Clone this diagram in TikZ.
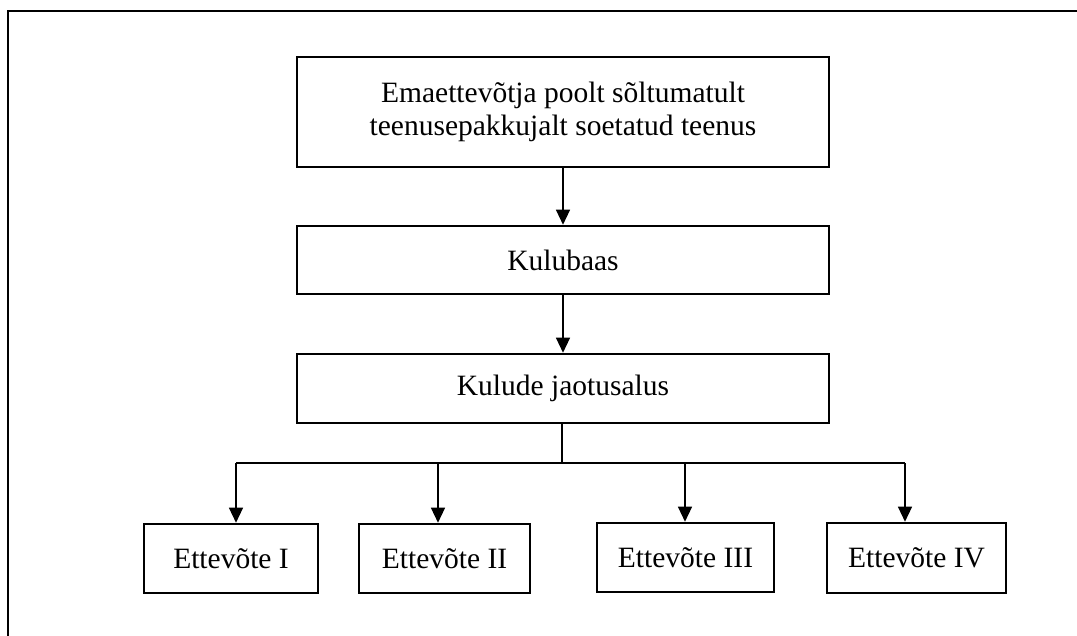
\documentclass[tikz,border=0pt]{standalone}
\usepackage{fontspec}
\setmainfont{Liberation Serif}
\usetikzlibrary{arrows.meta}
\begin{document}
\begin{tikzpicture}[x=1pt,y=-1pt,
  box/.style={draw=black,line width=2.6pt,inner sep=0pt,anchor=center,
    font=\fontsize{29.5}{33}\selectfont,align=center},
  conn/.style={line width=1.3pt},
  arr/.style={conn,-{Triangle[length=15pt,width=14pt]}}]
\useasboundingbox (0,0) rectangle (1077,635);
% frame
\coordinate (f1) at (8,640);
\coordinate (f2) at (8,11);
\coordinate (f3) at (1080,11);
\draw[line width=2.8pt] (f1) -- (f2) -- (f3);
% main boxes
\node[box,minimum width=532pt,minimum height=110pt] (top) at (563,112)
  {Emaettevõtja poolt sõltumatult\\teenusepakkujalt soetatud teenus};
\node[box,minimum width=532pt,minimum height=68pt] (kb) at (563,260) {Kulubaas};
\node[box,minimum width=532pt,minimum height=69pt] (kj) at (563,388.5) {Kulude jaotusalus};
% bottom boxes
\node[box,minimum width=174pt,minimum height=69pt] (e1) at (231,558.5) {Ettevõte I};
\node[box,minimum width=171pt,minimum height=69pt] (e2) at (444.5,558.5) {Ettevõte II};
\node[box,minimum width=177pt,minimum height=69pt] (e3) at (685.5,557.5) {Ettevõte III};
\node[box,minimum width=179pt,minimum height=70pt] (e4) at (916.5,558) {Ettevõte IV};
% connectors
\draw[arr] (top.south) -- (kb.north);
\draw[arr] (kb.south) -- (kj.north);
\coordinate (j) at (562,463);
\coordinate (h1) at (236,463);
\coordinate (h2) at (438,463);
\coordinate (h3) at (685,463);
\coordinate (h4) at (905,463);
\draw[conn] (kj.south -| j) -- (j);
\draw[conn] (h1) -- (h4);
\draw[arr] (h1) -- (h1 |- e1.north);
\draw[arr] (h2) -- (h2 |- e2.north);
\draw[arr] (h3) -- (h3 |- e3.north);
\draw[arr] (h4) -- (h4 |- e4.north);
\end{tikzpicture}
\end{document}
